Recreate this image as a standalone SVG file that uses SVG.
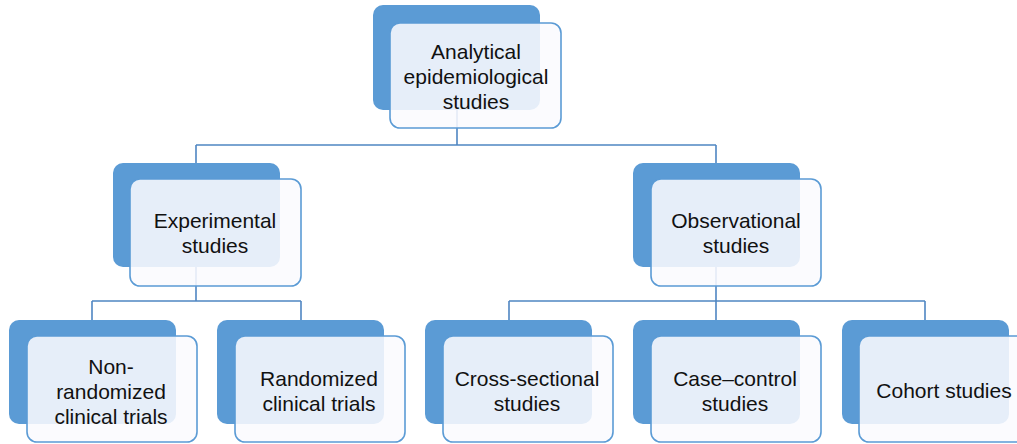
<svg xmlns="http://www.w3.org/2000/svg" width="1017" height="444" viewBox="0 0 1017 444">
<style>
.bk{fill:#5b9bd5}
.fr{fill:#fafafe;fill-opacity:0.87;stroke:#5b9bd5;stroke-width:1.6}
.cn{fill:none;stroke:#4f86c2;stroke-width:1.6}
text{font-family:"Liberation Sans",Arial,sans-serif;font-size:21px;fill:#111;text-anchor:middle}
</style>
<g id="connectors">
<path class="cn" d="M457,110V145M196,145H716M196,145V163M716,145V163"/>
<path class="cn" d="M196,267V301M92,301H301M92,301V320M301,301V320"/>
<path class="cn" d="M716,267V320M509,301H925M509,301V320M925,301V320"/>
</g>
<g id="n-analytical">
<rect class="bk" x="373" y="5" width="167" height="105" rx="10"/>
<rect class="fr" x="390" y="23" width="171" height="105" rx="10"/>
<text x="476" y="59">Analytical</text>
<text x="476" y="84">epidemiological</text>
<text x="476" y="109">studies</text>
</g>
<g id="n-experimental">
<rect class="bk" x="113" y="163" width="167" height="104" rx="10"/>
<rect class="fr" x="130" y="179" width="171" height="107" rx="10"/>
<text x="215" y="228">Experimental</text>
<text x="215" y="253">studies</text>
</g>
<g id="n-observational">
<rect class="bk" x="633" y="163" width="167" height="104" rx="10"/>
<rect class="fr" x="651" y="179" width="170" height="107" rx="10"/>
<text x="736" y="228">Observational</text>
<text x="736" y="253">studies</text>
</g>
<g id="n-nonrandomized">
<rect class="bk" x="9" y="320" width="167" height="104" rx="10"/>
<rect class="fr" x="27" y="336" width="170" height="106" rx="10"/>
<text x="111" y="374">Non-</text>
<text x="111" y="399">randomized</text>
<text x="111" y="424">clinical trials</text>
</g>
<g id="n-randomized">
<rect class="bk" x="217" y="320" width="167" height="104" rx="10"/>
<rect class="fr" x="235" y="336" width="170" height="106" rx="10"/>
<text x="319" y="386">Randomized</text>
<text x="319" y="411">clinical trials</text>
</g>
<g id="n-crosssectional">
<rect class="bk" x="425" y="320" width="167" height="104" rx="10"/>
<rect class="fr" x="443" y="336" width="170" height="106" rx="10"/>
<text x="527" y="386">Cross-sectional</text>
<text x="527" y="411">studies</text>
</g>
<g id="n-casecontrol">
<rect class="bk" x="633" y="320" width="167" height="104" rx="10"/>
<rect class="fr" x="651" y="336" width="170" height="106" rx="10"/>
<text x="735" y="386">Case–control</text>
<text x="735" y="411">studies</text>
</g>
<g id="n-cohort">
<rect class="bk" x="842" y="320" width="167" height="104" rx="10"/>
<rect class="fr" x="859" y="336" width="170" height="106" rx="10"/>
<text x="944" y="398">Cohort studies</text>
</g>
</svg>
